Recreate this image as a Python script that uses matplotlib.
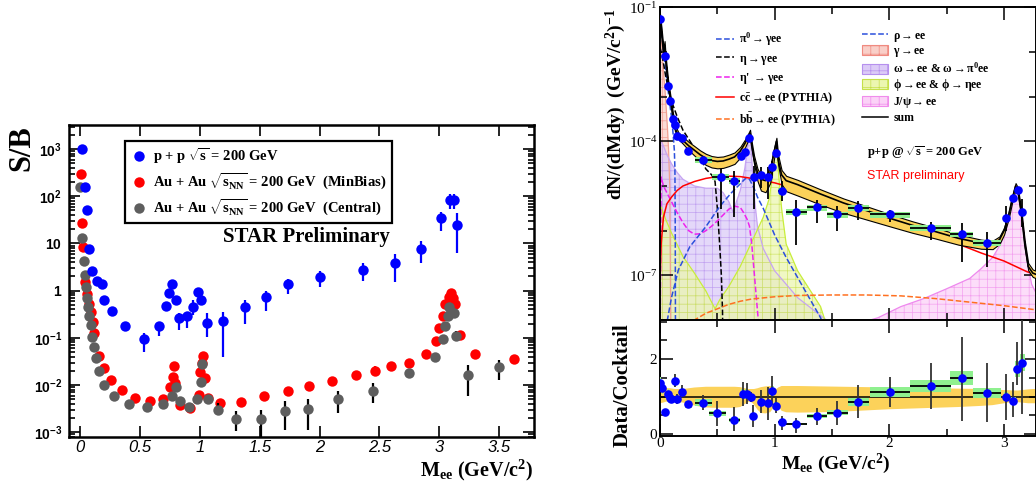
import numpy as np
import matplotlib
matplotlib.use("Agg")
import matplotlib.pyplot as plt
from matplotlib.lines import Line2D
from matplotlib.patches import Patch
from matplotlib.ticker import NullFormatter, FixedLocator, MultipleLocator

plt.rcParams['font.family'] = 'Liberation Serif'
plt.rcParams['mathtext.fontset'] = 'custom'
plt.rcParams['mathtext.rm'] = 'Liberation Serif'
plt.rcParams['mathtext.it'] = 'Liberation Serif:italic'
plt.rcParams['mathtext.bf'] = 'Liberation Serif:bold'
plt.rcParams['mathtext.sf'] = 'Liberation Sans:bold'
plt.rcParams['hatch.linewidth'] = 0.5

# ---------------- left panel: S/B ----------------
pp_m = [0.017, 0.039, 0.062, 0.078, 0.10, 0.145, 0.185, 0.2, 0.265, 0.378,
        0.53, 0.657, 0.72, 0.745, 0.77, 0.8, 0.83, 0.89, 0.94, 0.985,
        1.01, 1.063, 1.19, 1.376, 1.55, 1.735, 2.0, 2.36, 2.63, 2.85,
        3.01, 3.085, 3.12, 3.15]
pp_sb = [1000, 155, 51, 7.5, 2.6, 1.6, 1.36, 0.63, 0.37, 0.18,
         0.096, 0.18, 0.48, 0.9, 1.4, 0.63, 0.26, 0.29, 0.46, 0.92,
         0.63, 0.21, 0.23, 0.45, 0.72, 1.36, 1.97, 2.7, 3.8, 7.5,
         34, 83, 83, 25]
pp_err_m = [0.53, 0.657, 0.83, 0.89, 0.94, 1.063, 1.19, 1.376, 1.55, 1.735,
            2.0, 2.36, 2.63, 2.85, 3.01, 3.085, 3.12, 3.15]
pp_err_lo = [0.051, 0.11, 0.15, 0.16, 0.3, 0.105, 0.04, 0.2, 0.37, 0.86,
             1.2, 1.6, 1.55, 3.8, 18, 55, 55, 6.3]
pp_err_hi = [0.126, 0.22, 0.33, 0.36, 0.65, 0.33, 0.36, 0.63, 1.0, 1.8,
             2.6, 3.9, 6.0, 11.5, 47, 110, 110, 44]

aa_m = [0.011, 0.02, 0.025, 0.04, 0.06, 0.075, 0.09, 0.105, 0.12, 0.155,
        0.2, 0.256, 0.35, 0.46, 0.585, 0.69, 0.75, 0.78, 0.785, 0.79,
        0.835, 0.92, 0.99, 1.0, 1.016, 1.025, 1.04, 1.07, 1.17, 1.34,
        1.54, 1.74, 1.91, 2.1, 2.3, 2.46, 2.6, 2.75, 2.89, 2.97,
        3.0, 3.03, 3.05, 3.08, 3.1, 3.11, 3.13, 3.17, 3.3, 3.62]
aa_sb = [295, 27, 8.5, 1.55, 0.87, 0.53, 0.36, 0.22, 0.125, 0.041,
         0.023, 0.013, 0.0079, 0.0054, 0.0046, 0.005, 0.009, 0.015, 0.025, 0.011,
         0.0038, 0.0032, 0.0062, 0.019, 0.029, 0.041, 0.014, 0.0054, 0.0041, 0.0044,
         0.0059, 0.0076, 0.0095, 0.012, 0.016, 0.02, 0.025, 0.030, 0.046, 0.087,
         0.16, 0.29, 0.52, 0.75, 0.9, 0.7, 0.52, 0.117, 0.045, 0.035]
aa_err_m = [1.74, 2.46, 3.17, 3.3, 3.62]
aa_err_lo = [0.0066, 0.016, 0.1, 0.037, 0.028]
aa_err_hi = [0.0088, 0.025, 0.135, 0.055, 0.044]

cen_m = [0.0, 0.02, 0.035, 0.04, 0.05, 0.06, 0.07, 0.078, 0.09, 0.103,
         0.117, 0.13, 0.155, 0.2, 0.28, 0.41, 0.557, 0.69, 0.766, 0.8,
         0.835, 0.91, 0.98, 1.01, 1.02, 1.07, 1.155, 1.3, 1.515, 1.715,
         1.9, 2.15, 2.45, 2.75, 2.96, 3.03, 3.05, 3.07, 3.08, 3.1,
         3.12, 3.14, 3.24, 3.5]
cen_sb = [155, 13, 4.3, 2.1, 1.18, 0.69, 0.46, 0.29, 0.19, 0.105,
          0.065, 0.037, 0.02, 0.01, 0.0059, 0.004, 0.0035, 0.0039, 0.0059, 0.0093,
          0.0045, 0.0035, 0.005, 0.0117, 0.0275, 0.005, 0.003, 0.0019, 0.0019, 0.0028,
          0.0031, 0.005, 0.0076, 0.018, 0.04, 0.093, 0.18, 0.29, 0.45, 0.35,
          0.34, 0.11, 0.016, 0.024]
cen_err_m = [1.155, 1.3, 1.515, 1.715, 1.9, 2.15, 2.45, 3.14, 3.24, 3.5]
cen_err_lo = [0.0023, 0.00105, 0.0008, 0.0011, 0.0011, 0.0025, 0.0042, 0.085, 0.0058, 0.013]
cen_err_hi = [0.0042, 0.0028, 0.0029, 0.0045, 0.005, 0.0075, 0.011, 0.14, 0.026, 0.034]

sb_ticks = [1e-3, 1e-2, 1e-1, 1, 10, 1e2, 1e3]
sb_ticklabels = [r'$\mathsf{10^{-3}}$', r'$\mathsf{10^{-2}}$', r'$\mathsf{10^{-1}}$',
                 r'$\mathsf{1}$', r'$\mathsf{10}$', r'$\mathsf{10^{2}}$', r'$\mathsf{10^{3}}$']
m_ticks = [0, 0.5, 1, 1.5, 2, 2.5, 3, 3.5]
m_ticklabels = ['0', '0.5', '1', '1.5', '2', '2.5', '3', '3.5']

# ---------------- right panel: p+p spectrum vs cocktail ----------------
dn_m = [0.0, 0.044, 0.067, 0.087, 0.11, 0.13, 0.15, 0.19, 0.247, 0.378,
        0.53, 0.648, 0.706, 0.741, 0.776, 0.82, 0.88, 0.944, 0.98, 1.01,
        1.06, 1.19, 1.37, 1.546, 1.73, 2.005, 2.36, 2.63, 2.85, 3.017,
        3.08, 3.12, 3.16]
dn_y = [5.5e-2, 8.1e-3, 1.7e-3, 8.1e-4, 3.1e-4, 2.3e-4, 1.3e-4, 1.2e-4, 6.0e-5, 3.8e-5,
        1.6e-5, 1.3e-5, 4.7e-5, 5.9e-5, 1.2e-4, 1.55e-5, 1.8e-5, 1.55e-5, 2.6e-5, 5.6e-5,
        7.9e-6, 2.6e-6, 3.3e-6, 2.3e-6, 3.2e-6, 2.3e-6, 1.17e-6, 8.3e-7, 5.4e-7, 1.95e-6,
        5.5e-6, 8.1e-6, 2.6e-6]
dn_hw = [0.005, 0.005, 0.005, 0.005, 0.005, 0.01, 0.01, 0.01, 0.03, 0.075,
         0.075, 0.05, 0.015, 0.015, 0.015, 0.015, 0.02, 0.02, 0.015, 0.015,
         0.035, 0.09, 0.09, 0.09, 0.095, 0.175, 0.18, 0.1, 0.125, 0.02,
         0.02, 0.02, 0.02]
dn_err_m = [0.53, 0.648, 0.82, 0.88, 0.944, 0.98, 1.06, 1.19, 1.37, 1.546,
            1.73, 2.005, 2.36, 2.63, 2.85, 3.017, 3.16]
dn_err_lo = [3e-6, 2e-6, 3e-6, 9e-6, 5e-6, 1.5e-5, 4.5e-6, 4.8e-7, 1.45e-6, 1.0e-6,
             1.74e-6, 1.58e-6, 6.2e-7, 2.0e-7, 1.55e-7, 1.0e-6, 1.2e-6]
dn_err_hi = [2.4e-5, 2.2e-5, 2.8e-5, 2.6e-5, 2.6e-5, 3.6e-5, 1.3e-5, 4.9e-6, 4.9e-6, 3.5e-6,
             4.5e-6, 2.9e-6, 1.58e-6, 1.45e-6, 9.5e-7, 3.5e-6, 5e-6]
dn_sys = 0.15

# cocktail components, log10(dN/dMdy)
pi0_m = [0.0, 0.01, 0.02, 0.04, 0.06, 0.08, 0.1, 0.115, 0.125, 0.13, 0.133, 0.135]
pi0_l = [-1.2, -1.4, -1.7, -2.2, -2.65, -3.05, -3.45, -3.85, -4.2, -4.6, -6.0, -8.5]
eta_m = [0.0, 0.02, 0.05, 0.1, 0.15, 0.2, 0.25, 0.3, 0.35, 0.4, 0.45, 0.48, 0.5, 0.52, 0.535, 0.545, 0.548]
eta_l = [-1.9, -2.1, -2.55, -3.1, -3.45, -3.75, -3.95, -4.15, -4.35, -4.62, -4.75, -4.9, -5.5, -6.3, -7.0, -7.8, -8.5]
etap_m = [0.002, 0.01, 0.03, 0.06, 0.1, 0.15, 0.2, 0.25, 0.3, 0.35, 0.4, 0.45, 0.5, 0.55,
          0.6, 0.65, 0.7, 0.73, 0.76, 0.78, 0.8, 0.82, 0.84, 0.86, 0.87]
etap_l = [-8.0, -4.8, -5.0, -5.15, -5.35, -5.6, -5.82, -6.0, -6.08, -6.07, -6.0, -5.9, -5.78, -5.65,
          -5.52, -5.45, -5.48, -5.6, -5.75, -5.9, -6.3, -6.9, -7.5, -8.1, -8.5]
rho_m = [0.05, 0.1, 0.16, 0.26, 0.4, 0.52, 0.62, 0.7, 0.75, 0.78, 0.82, 0.85, 0.9,
         1.0, 1.1, 1.2, 1.3, 1.4, 1.45]
rho_l = [-8.2, -7.5, -6.88, -6.36, -5.91, -5.46, -5.16, -4.95, -4.82, -4.85, -5.05, -5.25, -5.5,
         -6.1, -6.6, -7.05, -7.5, -7.95, -8.3]
cc_m = [0.002, 0.01, 0.03, 0.06, 0.1, 0.15, 0.2, 0.3, 0.4, 0.5, 0.6, 0.7, 0.8, 0.9, 1.0,
        1.2, 1.4, 1.6, 1.8, 2.0, 2.2, 2.4, 2.6, 2.8, 3.0, 3.2, 3.3]
cc_l = [-7.0, -6.3, -5.7, -5.4, -5.25, -5.1, -5.0, -4.9, -4.83, -4.79, -4.78, -4.79, -4.83, -4.88, -4.93,
        -5.07, -5.27, -5.43, -5.6, -5.78, -5.94, -6.1, -6.3, -6.5, -6.68, -6.92, -7.0]
bb_m = [0.2, 0.3, 0.4, 0.5, 0.6, 0.7, 0.8, 1.0, 1.2, 1.5, 1.8, 2.1, 2.4, 2.7, 3.0, 3.3]
bb_l = [-8.3, -8.0, -7.85, -7.75, -7.65, -7.58, -7.53, -7.48, -7.45, -7.44, -7.44, -7.46, -7.52, -7.6, -7.68, -7.78]
gam_m = [0.0, 0.005, 0.015, 0.025, 0.035, 0.045, 0.055, 0.065, 0.075, 0.085, 0.095]
gam_l = [-2.0, -1.8, -1.75, -2.3, -2.6, -2.9, -3.3, -3.7, -4.2, -5.0, -8.5]
omg_m = [0.01, 0.03, 0.06, 0.1, 0.15, 0.2, 0.3, 0.4, 0.5, 0.55, 0.6, 0.64, 0.66, 0.7,
         0.74, 0.765, 0.78, 0.79, 0.8, 0.82, 0.85, 0.9, 1.0, 1.1, 1.2, 1.3, 1.4, 1.5]
omg_l = [-4.0, -4.1, -4.3, -4.5, -4.7, -4.85, -5.0, -5.05, -5.05, -5.15, -5.35, -5.6, -5.4, -5.1,
         -4.6, -4.1, -3.85, -3.9, -4.4, -5.2, -5.9, -6.4, -6.9, -7.2, -7.5, -7.7, -7.9, -8.1]
phi_m = [0.0, 0.05, 0.1, 0.2, 0.3, 0.4, 0.45, 0.48, 0.52, 0.6, 0.7, 0.8, 0.9, 0.95,
         0.98, 1.0, 1.015, 1.03, 1.06, 1.1, 1.2, 1.3, 1.4, 1.45]
phi_l = [-5.4, -5.75, -6.05, -6.58, -6.95, -7.35, -7.6, -7.75, -7.55, -7.25, -6.8, -6.25, -5.7, -5.3,
         -4.8, -4.3, -4.1, -4.6, -5.5, -6.3, -6.9, -7.3, -7.7, -8.1]
jpsi_m = [1.7, 1.9, 2.1, 2.3, 2.5, 2.7, 2.8, 2.9, 2.97, 3.03, 3.07, 3.1, 3.12, 3.15,
          3.18, 3.21, 3.24, 3.3]
jpsi_l = [-8.1, -7.95, -7.7, -7.52, -7.3, -7.07, -6.85, -6.6, -6.3, -5.85, -5.4, -5.08, -5.1, -5.5,
          -6.2, -6.8, -7.2, -7.5]

sum_m = [0.0, 0.015, 0.03, 0.04, 0.05, 0.07, 0.09, 0.11, 0.13, 0.16,
         0.2, 0.25, 0.3, 0.35, 0.4, 0.45, 0.5, 0.55, 0.6, 0.65,
         0.7, 0.74, 0.77, 0.785, 0.8, 0.82, 0.85, 0.88, 0.92, 0.96,
         0.99, 1.015, 1.03, 1.06, 1.1, 1.2, 1.4, 1.6, 1.8, 2.0,
         2.2, 2.4, 2.6, 2.8, 2.9, 2.96, 3.0, 3.04, 3.07, 3.1,
         3.12, 3.15, 3.18, 3.21, 3.25, 3.3]
sum_l = [-1.25, -1.6, -2.0, -1.85, -2.2, -2.7, -3.05, -3.4, -3.7, -3.88,
         -3.98, -4.1, -4.2, -4.3, -4.38, -4.43, -4.45, -4.44, -4.4, -4.35,
         -4.22, -4.05, -3.9, -3.82, -4.1, -4.4, -4.7, -4.85, -4.88, -4.7,
         -4.3, -4.0, -4.4, -4.75, -4.88, -4.97, -5.18, -5.38, -5.55, -5.72,
         -5.88, -6.02, -6.17, -6.28, -6.3, -6.2, -6.0, -5.65, -5.3, -5.0,
         -5.1, -5.6, -6.3, -6.8, -6.95, -7.0]
# relative cocktail uncertainty (same grid as sum)
band_hi = [1.26, 1.25, 1.24, 1.24, 1.23, 1.22, 1.22, 1.21, 1.2, 1.2,
           1.2, 1.22, 1.24, 1.25, 1.26, 1.26, 1.26, 1.26, 1.26, 1.26,
           1.25, 1.22, 1.2, 1.2, 1.2, 1.2, 1.22, 1.25, 1.27, 1.28,
           1.24, 1.2, 1.24, 1.28, 1.28, 1.28, 1.27, 1.26, 1.25, 1.24,
           1.23, 1.22, 1.21, 1.2, 1.19, 1.18, 1.17, 1.17, 1.16, 1.16,
           1.16, 1.17, 1.18, 1.19, 1.2, 1.2]
band_lo = [0.82, 0.83, 0.84, 0.85, 0.86, 0.87, 0.87, 0.87, 0.86, 0.85,
           0.84, 0.8, 0.76, 0.73, 0.71, 0.7, 0.7, 0.7, 0.7, 0.7,
           0.72, 0.8, 0.86, 0.86, 0.84, 0.78, 0.65, 0.56, 0.55, 0.58,
           0.7, 0.85, 0.75, 0.62, 0.58, 0.57, 0.58, 0.6, 0.63, 0.66,
           0.68, 0.7, 0.72, 0.75, 0.77, 0.8, 0.82, 0.84, 0.85, 0.85,
           0.85, 0.84, 0.83, 0.82, 0.82, 0.82]

# data / cocktail
r_m = [0.0, 0.02, 0.044, 0.073, 0.087, 0.1, 0.13, 0.15, 0.19, 0.247,
       0.378, 0.5, 0.648, 0.72, 0.755, 0.79, 0.81, 0.88, 0.94, 0.98,
       1.01, 1.06, 1.19, 1.37, 1.546, 1.73, 2.005, 2.36, 2.63, 2.85,
       3.017, 3.08, 3.115, 3.16]
r_y = [1.36, 1.22, 0.6, 1.08, 0.96, 0.93, 1.42, 0.93, 1.13, 0.79,
       0.84, 0.55, 0.37, 1.08, 1.06, 0.99, 0.48, 0.86, 0.82, 1.15,
       0.76, 0.32, 0.26, 0.48, 0.57, 0.86, 1.13, 1.28, 1.5, 1.1,
       0.99, 0.88, 1.73, 1.9]
r_lo = [1.3, 1.16, 0.55, 1.0, 0.88, 0.85, 1.26, 0.8, 0.95, 0.72,
        0.65, 0.22, 0.07, 0.76, 0.8, 0.85, 0.18, 0.55, 0.38, 0.77,
        0.55, 0.11, 0.02, 0.23, 0.25, 0.42, 0.71, 0.67, 0.36, 0.32,
        0.37, 0.46, 1.3, 0.53]
r_hi = [1.42, 1.28, 0.65, 1.16, 1.04, 1.01, 1.6, 1.06, 1.31, 0.86,
        1.03, 0.87, 0.73, 1.38, 1.35, 1.13, 0.78, 1.17, 1.26, 1.54,
        0.97, 0.48, 0.44, 0.7, 0.87, 1.3, 1.53, 1.9, 2.6, 1.9,
        1.6, 1.4, 2.46, 3.2]
r_hw = [0.005, 0.005, 0.005, 0.005, 0.005, 0.005, 0.005, 0.005, 0.005, 0.03,
        0.075, 0.075, 0.05, 0.015, 0.015, 0.015, 0.015, 0.02, 0.02, 0.015,
        0.015, 0.035, 0.09, 0.09, 0.09, 0.095, 0.175, 0.18, 0.1, 0.125,
        0.02, 0.02, 0.02, 0.02]
r_sys = 0.12

W, H = 1036, 487
fig = plt.figure(figsize=(W / 100, H / 100), dpi=100)

# ================= left =================
ax = fig.add_axes([69 / W, 1 - 437 / H, 465 / W, 312 / H])
ax.set_yscale('log')
ax.set_xlim(-0.092, 3.79)
ax.set_ylim(10 ** -3.1, 10 ** 3.51)

blue, red, grey = '#0000ff', '#ff0000', '#5e5e5e'
ax.vlines(aa_err_m, aa_err_lo, aa_err_hi, color=red, lw=1.6, zorder=2)
ax.plot(aa_m, aa_sb, 'o', color=red, ms=7.5, mec='none', zorder=3,
        label=r'Au + Au $\mathbf{\sqrt{s_{NN}}}$ = 200 GeV  (MinBias)')
ax.vlines(cen_err_m, cen_err_lo, cen_err_hi, color='k', lw=1.6, zorder=4)
ax.plot(cen_m, cen_sb, 'o', color=grey, ms=7.5, mec='none', zorder=5,
        label=r'Au + Au $\mathbf{\sqrt{s_{NN}}}$ = 200 GeV  (Central)')
ax.vlines(pp_err_m, pp_err_lo, pp_err_hi, color=blue, lw=1.6, zorder=6)
ax.plot(pp_m, pp_sb, 'o', color=blue, ms=7.5, mec='none', zorder=7,
        label=r'p + p $\mathbf{\sqrt{s}}$ = 200 GeV')

h, l = ax.get_legend_handles_labels()
order = [2, 0, 1]
leg = ax.legend([h[i] for i in order], [l[i] for i in order], loc='upper left',
                bbox_to_anchor=(125 / W, 1 - 141 / H), bbox_transform=fig.transFigure,
                prop={'size': 10.5, 'weight': 'bold'}, frameon=True, fancybox=False,
                edgecolor='k', framealpha=1, borderpad=0.35, labelspacing=0.4,
                handletextpad=0.4, handlelength=1.2, borderaxespad=0)
leg.get_frame().set_linewidth(1.6)
leg.set_zorder(10)

ax.set_yticks(sb_ticks, labels=sb_ticklabels, fontsize=10)
ax.yaxis.set_minor_formatter(NullFormatter())
ax.set_xticks(m_ticks, labels=m_ticklabels, fontsize=12, fontstyle='italic',
              fontfamily='Liberation Sans')
ax.tick_params(which='both', direction='in', top=True, right=True, width=1.2)
ax.tick_params(which='major', length=8, pad=5)
ax.tick_params(axis='x', which='major', pad=2)
ax.tick_params(which='minor', length=4)
for s in ax.spines.values():
    s.set_linewidth(1.8)

ax.text(223 / W, 1 - 237 / H, 'STAR Preliminary', transform=fig.transFigure, fontsize=15,
        fontweight='bold', va='center', zorder=12)
fig.text(22 / W, 1 - 148 / H, 'S/B', rotation=90, fontsize=22, fontweight='bold',
         ha='center', va='center')
fig.text(533 / W, 1 - 470 / H, r'$\mathbf{M_{ee}}$ (GeV/c$\mathbf{^{2}}$)', fontsize=14.5,
         fontweight='bold', ha='right', va='center')

# ================= right top =================
x_right = 1035.5
ax2 = fig.add_axes([660 / W, 1 - 320 / H, (x_right - 660) / W, (320 - 7.3) / H])
ax2.set_yscale('log')
ax2.set_xlim(0, (x_right - 660) / 114.7)
ax2.set_ylim(1e-8, 1e-1)
floor = 1e-9

fills = [
    (gam_m, gam_l, '#f9cfc8', '#f08a80', '#f0a090'),
    (omg_m, omg_l, '#dccbf7', '#b690ee', '#c6a4f2'),
    (phi_m, phi_l, '#ecf6b0', '#c6e04a', '#c8ee3a'),
    (jpsi_m, jpsi_l, '#fbd2f7', '#f08cec', '#ee88ee'),
]
for fm, fl, fc, hc, lc in fills:
    fy = 10 ** np.array(fl)
    ax2.fill_between(fm, floor, fy, facecolor=fc, edgecolor=hc, hatch='++',
                     linewidth=0, alpha=0.75, zorder=1)
    ax2.plot(fm, fy, color=lc, lw=0.9, zorder=1.5)

ax2.plot(pi0_m, 10 ** np.array(pi0_l), '--', color='#2b4fdc', lw=1.1, zorder=2)
ax2.plot(eta_m, 10 ** np.array(eta_l), '--', color='k', lw=1.1, zorder=2)
ax2.plot(etap_m, 10 ** np.array(etap_l), '--', color='#ee22ee', lw=1.1, zorder=2)
ax2.plot(rho_m, 10 ** np.array(rho_l), '--', color='#2b4fdc', lw=1.1, zorder=2)
ax2.plot(bb_m, 10 ** np.array(bb_l), '--', color='#ff7020', lw=1.1, zorder=2)
ax2.plot(cc_m, 10 ** np.array(cc_l), '-', color='#ff0000', lw=1.1, zorder=2)

sum_y = 10 ** np.array(sum_l)
ax2.fill_between(sum_m, sum_y * np.array(band_lo), sum_y * np.array(band_hi),
                 facecolor='#fcd25a', edgecolor='k', linewidth=0.8, zorder=3)
ax2.plot(sum_m, sum_y, '-', color='k', lw=1.2, zorder=3.5)

dn_y_a = np.array(dn_y)
ax2.bar(dn_m, dn_y_a * (2 * dn_sys), bottom=dn_y_a * (1 - dn_sys),
        width=2 * np.array(dn_hw), color='#8ff08f', zorder=4)
ax2.errorbar(dn_m, dn_y, xerr=dn_hw, fmt='none', ecolor='k', elinewidth=1.3, zorder=5)
ax2.vlines(dn_err_m, dn_err_lo, dn_err_hi, color='k', lw=1.3, zorder=5)
ax2.plot(dn_m, dn_y, 'o', color=blue, ms=6.2, mec='none', zorder=6)

ax2.yaxis.set_major_locator(FixedLocator([1e-1, 1e-4, 1e-7]))
ax2.yaxis.set_minor_locator(FixedLocator([1e-2, 1e-3, 1e-5, 1e-6, 1e-8]))
ax2.set_yticklabels([r'$10^{-1}$', r'$10^{-4}$', r'$10^{-7}$'], fontsize=11)
ax2.yaxis.set_minor_formatter(NullFormatter())
ax2.set_xticks([0, 1, 2, 3])
ax2.xaxis.set_minor_locator(MultipleLocator(0.5))
ax2.tick_params(labelbottom=False)
ax2.tick_params(which='both', direction='in', top=True, right=True, width=1.1)
ax2.tick_params(which='major', length=9, pad=2)
ax2.tick_params(which='minor', length=5)
for s in ax2.spines.values():
    s.set_linewidth(1.4)

leg1_h = [Line2D([], [], ls='--', color='#2b4fdc', lw=1.1),
          Line2D([], [], ls='--', color='k', lw=1.1),
          Line2D([], [], ls='--', color='#ee22ee', lw=1.1),
          Line2D([], [], ls='-', color='#ff0000', lw=1.1),
          Line2D([], [], ls='--', color='#ff7020', lw=1.1)]
leg1_l = [r'$\mathbf{\pi^{0}\rightarrow\gamma ee}$',
          r'$\mathbf{\eta\rightarrow\gamma ee}$',
          r"$\mathbf{\eta}$' $\mathbf{\rightarrow\gamma ee}$",
          r'$\mathbf{c\bar{c}\rightarrow ee}$ (PYTHIA)',
          r'$\mathbf{b\bar{b}\rightarrow ee}$ (PYTHIA)']
lg1 = ax2.legend(leg1_h, leg1_l, loc='upper left', bbox_to_anchor=(712 / W, 1 - 27 / H),
                 bbox_transform=fig.transFigure, frameon=False,
                 prop={'size': 8.5, 'weight': 'bold'},
                 handlelength=1.6, handletextpad=0.4, labelspacing=0.38,
                 borderpad=0.3, borderaxespad=0)
ax2.add_artist(lg1)
leg2_h = [Line2D([], [], ls='--', color='#2b4fdc', lw=1.1),
          Patch(facecolor='#f9cfc8', edgecolor='#f08a80', hatch='++', lw=0.8),
          Patch(facecolor='#dccbf7', edgecolor='#b690ee', hatch='++', lw=0.8),
          Patch(facecolor='#ecf6b0', edgecolor='#c6e04a', hatch='++', lw=0.8),
          Patch(facecolor='#fbd2f7', edgecolor='#f08cec', hatch='++', lw=0.8),
          Line2D([], [], ls='-', color='k', lw=1.1)]
leg2_l = [r'$\mathbf{\rho\rightarrow ee}$',
          r'$\mathbf{\gamma\rightarrow ee}$',
          r'$\mathbf{\omega\rightarrow ee}$ & $\mathbf{\omega\rightarrow\pi^{0}ee}$',
          r'$\mathbf{\phi\rightarrow ee}$ & $\mathbf{\phi\rightarrow\eta ee}$',
          r'$\mathbf{J/\psi\rightarrow ee}$',
          'sum']
ax2.legend(leg2_h, leg2_l, loc='upper left', bbox_to_anchor=(858 / W, 1 - 26 / H),
           bbox_transform=fig.transFigure, frameon=False,
           prop={'size': 8.5, 'weight': 'bold'},
           handlelength=2.2, handleheight=0.9, handletextpad=0.5, labelspacing=0.15,
           borderpad=0.3, borderaxespad=0)

fig.text(867 / W, 1 - 153 / H, r'p+p @ $\mathbf{\sqrt{s}}$ = 200 GeV', fontsize=9,
         fontweight='bold', va='center')
fig.text(867 / W, 1 - 176 / H, 'STAR preliminary', color='#ff0000', fontsize=9,
         fontfamily='Liberation Sans', va='center')
fig.text(616 / W, 1 - 104 / H, r'dN/(dMdy)  (GeV/c$\mathbf{^{2}}$)$\mathbf{^{-1}}$',
         rotation=90, fontsize=14, fontweight='bold', ha='center', va='center')

# ================= right bottom =================
ax3 = fig.add_axes([660 / W, 1 - 436 / H, (x_right - 660) / W, 116 / H])
ax3.set_xlim(0, (x_right - 660) / 114.7)
ax3.set_ylim(-0.053, 3.04)
ax3.fill_between(sum_m, band_lo, band_hi, facecolor='#fcd25a', edgecolor='none', zorder=1)
ax3.axhline(1.0, color='k', lw=1.1, zorder=2)
r_y_a = np.array(r_y)
ax3.bar(r_m, r_y_a * (2 * r_sys), bottom=r_y_a * (1 - r_sys), width=2 * np.array(r_hw),
        color='#8ff08f', zorder=3)
ax3.errorbar(r_m, r_y, xerr=r_hw, fmt='none', ecolor='k', elinewidth=1.3, zorder=4)
ax3.vlines(r_m, r_lo, r_hi, color='#333333', lw=1.3, zorder=4)
ax3.plot(r_m, r_y, 'o', color=blue, ms=6.2, mec='none', zorder=5)

ax3.set_xticks([0, 1, 2, 3], labels=['0', '1', '2', '3'], fontsize=11)
ax3.xaxis.set_minor_locator(MultipleLocator(0.5))
ax3.set_yticks([0, 2], labels=['0', '2'], fontsize=11)
ax3.yaxis.set_minor_locator(MultipleLocator(0.5))
ax3.tick_params(which='both', direction='in', top=True, right=True, width=1.1)
ax3.tick_params(which='major', length=9)
ax3.tick_params(axis='x', which='major', pad=0.5)
ax3.tick_params(axis='y', which='major', pad=2)
ax3.tick_params(which='minor', length=5)
for s in ax3.spines.values():
    s.set_linewidth(1.4)

fig.text(623 / W, 1 - 385 / H, 'Data/Cocktail', rotation=90, fontsize=15,
         fontweight='bold', ha='center', va='center')
fig.text(836 / W, 1 - 464 / H, r'$\mathbf{M_{ee}}$ (GeV/c$\mathbf{^{2}}$)', fontsize=14,
         fontweight='bold', ha='center', va='center')

fig.savefig('out.png', dpi=100)
